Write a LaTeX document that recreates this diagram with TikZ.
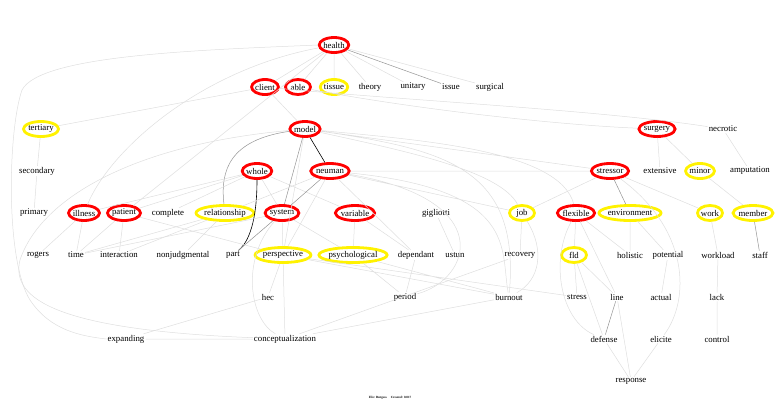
\documentclass[tikz,border=0pt]{standalone}
\usepackage{fontspec}
\setmainfont{Liberation Serif}
\usepackage{tikz}
\usetikzlibrary{shapes,arrows,positioning,calc}

\begin{document}
\begin{tikzpicture}[
  x=1pt, y=-1pt,
  every node/.style={font=\fontsize{8.8}{9}\selectfont, inner sep=1pt},
  hot/.style={ellipse, draw=red, line width=2.8pt, inner xsep=-0.3pt,
              inner ysep=1pt, minimum width=25pt, minimum height=15pt},
  warm/.style={ellipse, draw=yellow, line width=2.8pt, inner xsep=-0.3pt,
               inner ysep=1pt, minimum width=25pt, minimum height=15pt},
  edge/.style={draw=black!13, line width=0.5pt},
  midedge/.style={draw=black!42, line width=0.5pt},
  strong/.style={draw=black, line width=0.6pt}
]
\useasboundingbox (0,0) rectangle (780,408);

% row 1
\node[hot] (health) at (334,45) {health};
% row 2
\node[hot]  (client)   at (265,87) {client};
\node[hot]  (able)     at (298,87) {able};
\node[warm] (tissue)   at (334,87) {tissue};
\node       (theory)   at (370,87) {theory};
\node       (unitary)  at (413,87) {unitary};
\node       (issue)    at (451,87) {issue};
\node       (surgical) at (490,87) {surgical};
% row 3
\node[warm] (tertiary) at (41,129) {tertiary};
\node[hot]  (model)    at (305,129) {model};
\node[hot]  (surgery)  at (657,129) {surgery};
\node       (necrotic) at (723,129) {necrotic};
% row 4
\node       (secondary)  at (37,171) {secondary};
\node[hot]  (whole)      at (257,171) {whole};
\node[hot]  (neuman)     at (330,171) {neuman};
\node[hot]  (stressor)   at (610,171) {stressor};
\node       (extensive)  at (660,171) {extensive};
\node[warm] (minor)      at (700,171) {minor};
\node       (amputation) at (750,171) {amputation};
% row 5
\node       (primary)      at (34,213) {primary};
\node[hot]  (illness)      at (84,213) {illness};
\node[hot]  (patient)      at (124,213) {patient};
\node       (complete)     at (168,213) {complete};
\node[warm] (relationship) at (225,213) {relationship};
\node[hot]  (system)       at (282,213) {system};
\node[hot]  (variable)     at (355,213) {variable};
\node       (gigliotti)    at (436,213) {gigliotti};
\node[warm] (job)          at (522,213) {job};
\node[hot]  (flexible)     at (576,213) {flexible};
\node[warm] (environment)  at (630,213) {environment};
\node[warm] (work)         at (710,213) {work};
\node[warm] (member)       at (753,213) {member};
% row 6
\node       (rogers)        at (38,255) {rogers};
\node       (time)          at (76,255) {time};
\node       (interaction)   at (119,255) {interaction};
\node       (nonjudgmental) at (183,255) {nonjudgmental};
\node       (part)          at (233,255) {part};
\node[warm] (perspective)   at (283,255) {perspective};
\node[warm] (psychological) at (353,255) {psychological};
\node       (dependant)     at (416,255) {dependant};
\node       (ustun)         at (455,255) {ustun};
\node       (recovery)      at (520,255) {recovery};
\node[warm] (fld)           at (574,255) {fld};
\node       (holistic)      at (630,255) {holistic};
\node       (potential)     at (668,255) {potential};
\node       (workload)      at (718,255) {workload};
\node       (staff)         at (760,255) {staff};
% row 7
\node (hec)     at (268,297) {hec};
\node (period)  at (405,297) {period};
\node (burnout) at (509,297) {burnout};
\node (stress)  at (577,297) {stress};
\node (line)    at (617,297) {line};
\node (actual)  at (661,297) {actual};
\node (lack)    at (717,297) {lack};
% row 8
\node (expanding)         at (126,339) {expanding};
\node (conceptualization) at (285,339) {conceptualization};
\node (defense)           at (604,339) {defense};
\node (elicite)           at (661,339) {elicite};
\node (control)           at (717,339) {control};
% row 9
\node (response) at (631,381) {response};

\node[font=\fontsize{3.2}{4}\selectfont\bfseries] (stamp) at (390,398) {File: Burgess \quad Created: 0.017};

\draw[edge] (health) -- (client) (health) -- (able) (health) -- (tissue)
  (health) -- (theory) (health) -- (unitary) (health) -- (surgical)
  (health) -- (patient) (health) .. controls (200,70) and (110,150) .. (illness)
  (health.west) .. controls (200,50) and (40,55) .. (22,90)
  .. controls (8,130) and (5,260) .. (30,300)
  .. controls (50,330) and (80,336) .. (expanding.west);
\draw[midedge] (health) -- (issue);
\draw[edge] (client) -- (tertiary) (client) -- (model)
  (client) .. controls (400,100) and (600,110) .. (necrotic)
  (able) .. controls (420,110) and (560,125) .. (surgery);
\draw[edge] (tertiary) -- (secondary) (secondary) -- (primary);
\draw[edge] (model) .. controls (130,145) and (40,200) .. (20,260)
  .. controls (10,300) and (60,330) .. (conceptualization)
  (model) -- (perspective) (model) -- (stressor)
  (model) .. controls (420,140) and (560,150) .. (flexible)
  (model) .. controls (450,150) and (520,170) .. (burnout)
  (model) .. controls (400,150) and (500,170) .. (job);
\draw[strong] (model) -- (neuman);
\draw[midedge] (model) .. controls (230,140) and (220,170) .. (relationship)
  (model) -- (system);
\draw[strong] (whole) .. controls (257,230) and (245,245) .. (part);
\draw[edge] (whole) -- (system) (whole) -- (illness) (whole) -- (patient)
  (whole) -- (variable) (whole) -- (complete);
\draw[midedge] (neuman) -- (system) (system) -- (part);
\draw[edge] (neuman) -- (perspective) (neuman) -- (relationship)
  (neuman) -- (stressor) (neuman) -- (job) (neuman) -- (dependant)
  (neuman) .. controls (500,200) and (470,280) .. (period)
  (neuman) .. controls (520,190) and (500,250) .. (burnout);
\draw[edge] (system) -- (perspective) (system) -- (time)
  (system) -- (psychological)
  (system) .. controls (240,260) and (250,320) .. (conceptualization);
\draw[edge] (relationship) -- (time) (relationship) -- (nonjudgmental)
  (relationship) -- (interaction);
\draw[edge] (illness) -- (rogers) (illness) -- (time)
  (patient) -- (interaction) (patient) -- (time) (patient) -- (perspective);
\draw[edge] (variable) -- (psychological) (variable) -- (dependant)
  (gigliotti) -- (ustun);
\draw[edge] (perspective) -- (hec) (perspective) -- (conceptualization)
  (perspective) -- (burnout) (perspective) -- (stress)
  (psychological) -- (period) (psychological) -- (burnout);
\draw[edge] (hec) -- (expanding) (expanding) -- (conceptualization)
  (burnout) -- (conceptualization) (recovery) -- (conceptualization)
  (dependant) -- (period);
\draw[edge] (surgery) -- (extensive) (surgery) -- (minor)
  (necrotic) -- (amputation) (minor) -- (member);
\draw[midedge] (member) -- (staff) (stressor) -- (environment);
\draw[edge] (stressor) -- (job) (stressor) -- (work)
  (stressor) .. controls (690,230) and (690,300) .. (elicite);
\draw[edge] (job) -- (recovery) (job) .. controls (545,250) and (540,280) .. (burnout);
\draw[edge] (flexible) -- (fld) (flexible) -- (holistic) (flexible) -- (line)
  (flexible) .. controls (550,260) and (560,320) .. (defense);
\draw[edge] (environment) -- (holistic) (environment) -- (potential)
  (work) -- (workload) (workload) -- (lack) (lack) -- (control)
  (potential) -- (actual);
\draw[edge] (fld) -- (stress) (fld) -- (line) (fld) -- (defense)
  (line) -- (response) (defense) -- (response) (elicite) -- (response);
\draw[midedge] (line) -- (defense);
\end{tikzpicture}
\end{document}
